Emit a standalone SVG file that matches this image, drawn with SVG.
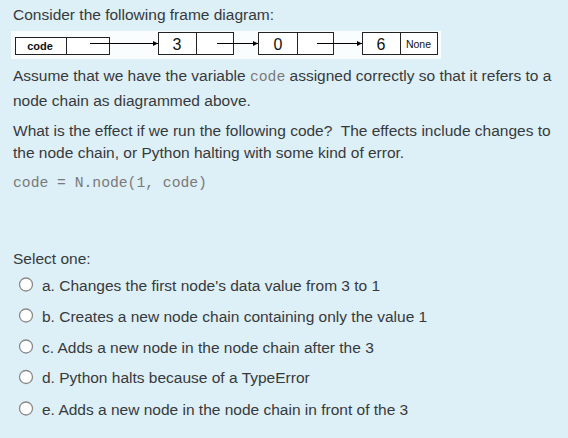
<svg xmlns="http://www.w3.org/2000/svg" width="568" height="438" viewBox="0 0 568 438">
<defs>
<marker id="ah" viewBox="0 0 10 10" refX="10" refY="5" markerWidth="5" markerHeight="5" orient="auto" markerUnits="userSpaceOnUse"><path d="M0,0 L10,5 L0,10 z" fill="#000"/></marker>
<style>
.t{font-family:"Liberation Sans",Arial,sans-serif;font-size:15.5px;fill:#373a3c}
.m{font-family:"Liberation Mono","Courier New",monospace;font-size:14.7px;fill:#7a7a7a}
.box{fill:#fff;stroke:#222;stroke-width:1}
.d{font-family:"Liberation Sans",Arial,sans-serif;fill:#111;text-anchor:middle}
.c{stroke:#000;stroke-width:1;fill:none;marker-end:url(#ah)}
.r{fill:#fff;stroke:#8a8a8a;stroke-width:1.3}
</style>
</defs>
<rect width="568" height="438" fill="#ddeff7"/>
<text class="t" x="13" y="20">Consider the following frame diagram:</text>
<rect x="11" y="31" width="430" height="28" fill="#fff" opacity="0.85"/>
<g id="frame-code">
<rect class="box" x="15.5" y="37.5" width="94" height="17"/>
<line x1="66.5" y1="37.5" x2="66.5" y2="54.5" stroke="#222"/>
<text class="d" x="40" y="50" font-size="11" font-weight="bold">code</text>
</g>
<g id="node-3">
<rect class="box" x="158.5" y="32.5" width="75" height="22"/>
<line x1="196.5" y1="32.5" x2="196.5" y2="54.5" stroke="#222"/>
<text class="d" x="177" y="49.5" font-size="16">3</text>
</g>
<g id="node-0">
<rect class="box" x="258.5" y="32.5" width="75" height="22"/>
<line x1="297.5" y1="32.5" x2="297.5" y2="54.5" stroke="#222"/>
<text class="d" x="278" y="49.5" font-size="16">0</text>
</g>
<g id="node-6">
<rect class="box" x="362.5" y="32.5" width="75" height="22"/>
<line x1="400.5" y1="32.5" x2="400.5" y2="54.5" stroke="#222"/>
<text class="d" x="381" y="49.5" font-size="16">6</text>
<text class="d" x="418.5" y="47.5" font-size="10.5">None</text>
</g>
<g id="connectors">
<line class="c" x1="90" y1="43.5" x2="158" y2="43.5"/>
<line class="c" x1="217" y1="43.5" x2="258" y2="43.5"/>
<line class="c" x1="317" y1="43.5" x2="362" y2="43.5"/>
</g>
<text class="t" x="13" y="81">Assume that we have the variable <tspan class="m" font-size="14">code</tspan> assigned correctly so that it refers to a</text>
<text class="t" x="13" y="106">node chain as diagrammed above.</text>
<text class="t" x="13" y="136" xml:space="preserve">What is the effect if we run the following code?  The effects include changes to</text>
<text class="t" x="13" y="158">the node chain, or Python halting with some kind of error.</text>
<text class="m" x="13" y="187" xml:space="preserve">code = N.node(1, code)</text>
<text class="t" x="13" y="264">Select one:</text>
<g id="opt-a"><circle class="r" cx="26" cy="284.5" r="6.5"/><text class="t" x="42" y="291">a. Changes the first node's data value from 3 to 1</text></g>
<g id="opt-b"><circle class="r" cx="26" cy="315.5" r="6.5"/><text class="t" x="42" y="322">b. Creates a new node chain containing only the value 1</text></g>
<g id="opt-c"><circle class="r" cx="26" cy="346.5" r="6.5"/><text class="t" x="42" y="353">c. Adds a new node in the node chain after the 3</text></g>
<g id="opt-d"><circle class="r" cx="26" cy="377" r="6.5"/><text class="t" x="42" y="383">d. Python halts because of a TypeError</text></g>
<g id="opt-e"><circle class="r" cx="26" cy="408.5" r="6.5"/><text class="t" x="42" y="415">e. Adds a new node in the node chain in front of the 3</text></g>
</svg>
